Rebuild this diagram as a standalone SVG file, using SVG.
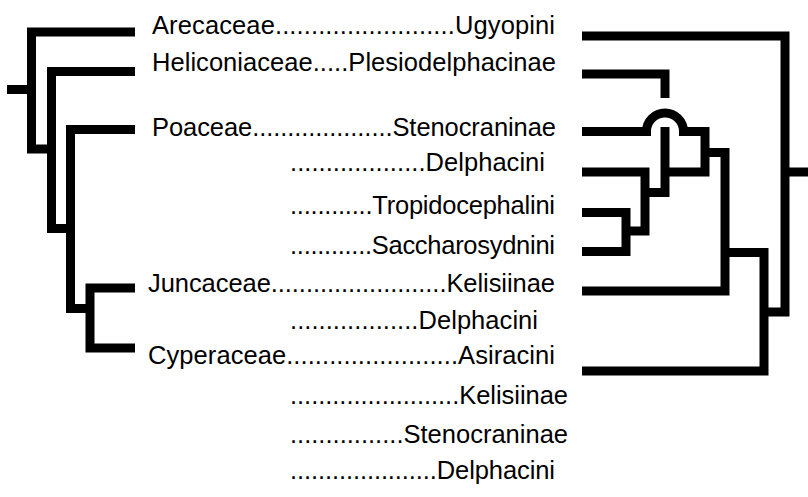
<svg xmlns="http://www.w3.org/2000/svg" width="808" height="497" viewBox="0 0 808 497">
<style>
.t{font-family:"Liberation Sans",Arial,Helvetica,sans-serif;font-size:25.5px;fill:#000}
.e{fill:none;stroke:#000;stroke-width:9;stroke-linecap:butt;stroke-linejoin:miter}
</style>
<rect width="808" height="497" fill="#fff"/>
<g id="connectors">
<path class="e" d="M7,89.5 H31.5"/>
<path class="e" d="M135,32 H31.5 V149 H51.5"/>
<path class="e" d="M135,71.5 H51.5 V228.5 H70.5"/>
<path class="e" d="M135,129.5 H70.5 V308.5 H90"/>
<path class="e" d="M135,288 H90 V348 H135"/>
<path class="e" d="M582,36 H785 V312 H764"/>
<path class="e" d="M785,172 H808"/>
<path class="e" d="M582,74 H665 V98"/>
<path class="e" d="M582,131.5 H646.5 A18.5,18.5 0 0 1 683.5,131.5 H705 V172 H665"/>
<path class="e" d="M665,127 V192.5 H645"/>
<path class="e" d="M582,172 H645 V231 H626"/>
<path class="e" d="M582,212.5 H626 V251.5 H582"/>
<path class="e" d="M705,152.5 H725 V291 H582"/>
<path class="e" d="M725,252.5 H764 V371 H582"/>
</g>
<g id="row1"><text class="t" x="152" y="34" textLength="403" lengthAdjust="spacing">Arecaceae.........................Ugyopini</text></g>
<g id="row2"><text class="t" x="152" y="71" textLength="404" lengthAdjust="spacing">Heliconiaceae.....Plesiodelphacinae</text></g>
<g id="row3"><text class="t" x="152" y="136" textLength="404" lengthAdjust="spacing">Poaceae....................Stenocraninae</text></g>
<g id="row4"><text class="t" x="290" y="171" textLength="255" lengthAdjust="spacing">...................Delphacini</text></g>
<g id="row5"><text class="t" x="290" y="214" textLength="265" lengthAdjust="spacing">............Tropidocephalini</text></g>
<g id="row6"><text class="t" x="290" y="254" textLength="265" lengthAdjust="spacing">............Saccharosydnini</text></g>
<g id="row7"><text class="t" x="148" y="292" textLength="407" lengthAdjust="spacing">Juncaceae.........................Kelisiinae</text></g>
<g id="row8"><text class="t" x="290" y="329" textLength="248" lengthAdjust="spacing">..................Delphacini</text></g>
<g id="row9"><text class="t" x="148" y="364" textLength="407" lengthAdjust="spacing">Cyperaceae........................Asiracini</text></g>
<g id="row10"><text class="t" x="290" y="404" textLength="278" lengthAdjust="spacing">........................Kelisiinae</text></g>
<g id="row11"><text class="t" x="290" y="443" textLength="278" lengthAdjust="spacing">................Stenocraninae</text></g>
<g id="row12"><text class="t" x="290" y="479" textLength="265" lengthAdjust="spacing">.....................Delphacini</text></g>
</svg>
